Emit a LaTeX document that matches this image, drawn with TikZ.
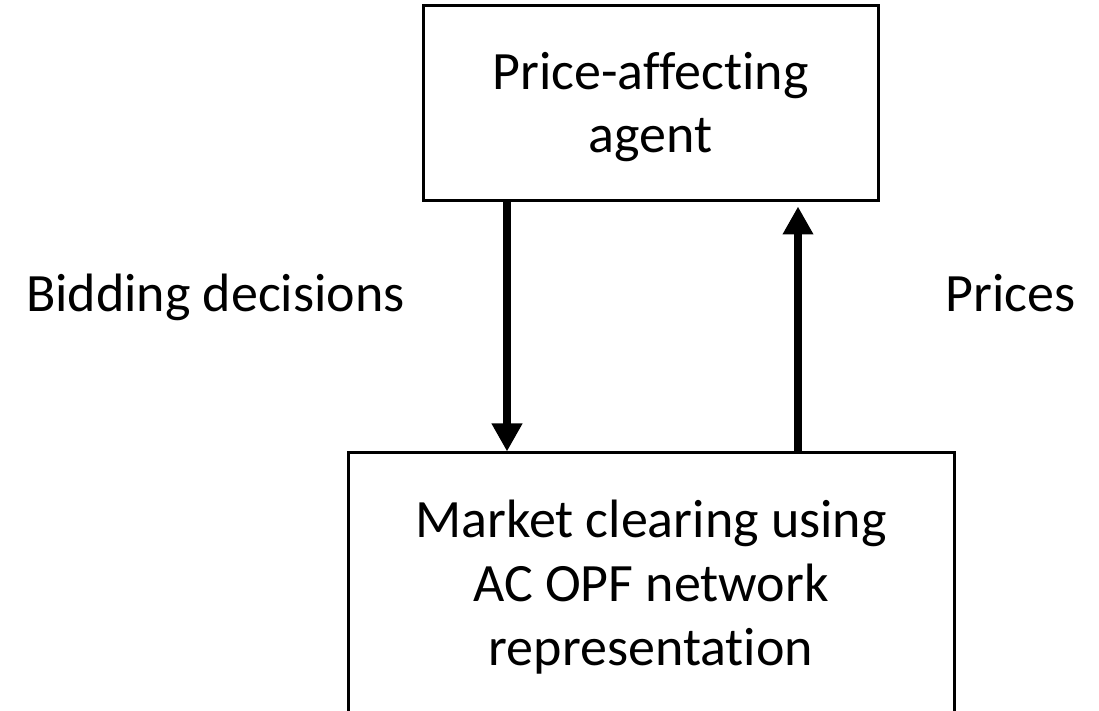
\documentclass[tikz,border=0pt]{standalone}
\usepackage{fontspec}
\setmainfont{Carlito}[Ligatures=CommonOff]
\usepackage{tikz}
\usetikzlibrary{arrows.meta}

\begin{document}
\begin{tikzpicture}[x=0.5pt,y=-0.5pt,
every node/.style={font=\fontsize{27pt}{31.5pt}\selectfont},
box/.style={draw,line width=1.5pt,inner sep=0pt},
boxtext/.style={align=center,anchor=base,inner sep=0pt},
flow/.style={line width=4.2pt,-{Triangle[length=14pt,width=14.5pt]}}]
\useasboundingbox (0,0) rectangle (1099,711);
\def\lx{507}
\def\rx{798}
% the two blocks (text placed by the baseline of its last line)
\node[box,minimum width=227.5pt,minimum height=97.5pt](agent) at (650.5,103.5) {};
\node[box,minimum width=303pt,minimum height=137pt](market) at (651,590) {};
\node[boxtext](agenttext) at (650.5,153) {Price-affecting\\agent};
\node[boxtext,font=\fontsize{27pt}{32pt}\selectfont](markettext) at (651,665) {Market clearing using\\AC OPF network\\representation};
\coordinate(l) at (\lx,0);
\coordinate(r) at (\rx,0);

%arrows between the blocks
\draw[flow] (agent.south -| l) -- (market.north -| l);
\draw[flow,shorten >=2pt] (market.north -| r) -- (agent.south -| r);

%labels beside the arrows
\node[anchor=base](bid) at (215.5,312) {Bidding decisions};
\node[anchor=base](price) at (1010.5,312) {Prices};
\end{tikzpicture}
\end{document}
